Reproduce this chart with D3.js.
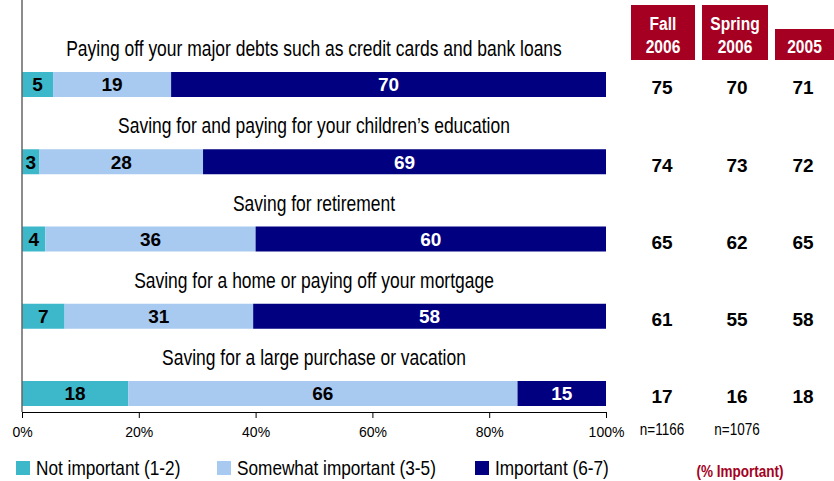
<!DOCTYPE html>
<html>
<head>
<meta charset="utf-8">
<script src="https://cdn.jsdelivr.net/npm/d3@7"></script>
<style>
  html, body { margin: 0; padding: 0; background: #fff; }
  svg { display: block; }
</style>
</head>
<body>
<svg id="chart" width="834" height="481"></svg>
<script>
// Priorities, shares rating each item (percent)
const categories = [
  "Paying off your major debts such as credit cards and bank loans",
  "Saving for and paying for your children\u2019s education",
  "Saving for retirement",
  "Saving for a home or paying off your mortgage",
  "Saving for a large purchase or vacation"
];
const notImportant = [5, 3, 4, 7, 18];
const somewhatImportant = [19, 28, 36, 31, 66];
const important = [70, 69, 60, 58, 15];

// Earlier waves, % important
const waves = ["Fall\n2006", "Spring\n2006", "2005"];
const fall2006 = [75, 74, 65, 61, 17];
const spring2006 = [70, 73, 62, 55, 16];
const y2005 = [71, 72, 65, 58, 18];
const sampleSizes = ["n=1166", "n=1076"];

const seriesNames = ["Not important (1-2)", "Somewhat important (3-5)", "Important (6-7)"];
const colors = ["#3db8cb", "#a8caf0", "#000080"];
const labelColors = ["#000", "#000", "#fff"];
const tickValues = [0, 0.2, 0.4, 0.6, 0.8, 1];

const font = "'Liberation Sans', Arial, sans-serif";
const red = "#a50021";
const condense = 0.82; // horizontal squeeze for the condensed captions

const svg = d3.select("#chart");

// condensed text: glyphs drawn at origin and squeezed horizontally
function narrowText(parent, x, y, txt, size, opts = {}) {
  return parent.append("text")
    .attr("transform", `translate(${x},${y}) scale(${condense},1)`)
    .attr("text-anchor", opts.anchor || "start")
    .style("font-family", font)
    .style("font-size", size + "px")
    .style("font-weight", opts.bold ? "bold" : "normal")
    .attr("fill", opts.fill || "#000")
    .text(txt);
}

const x = d3.scaleLinear().domain([0, 1]).range([22, 606]);
const y = d3.scalePoint().domain(d3.range(categories.length)).range([84.5, 393.5]);
const barH = 25;

// stacked segments, each row spread over the full 0-100% width
const segs = [];
categories.forEach((c, i) => {
  const vals = [notImportant[i], somewhatImportant[i], important[i]];
  const total = d3.sum(vals);
  let acc = 0;
  vals.forEach((v, k) => {
    segs.push({ row: i, k, v, x0: acc / total, x1: (acc + v) / total });
    acc += v;
  });
});

// category titles above each bar
const titles = svg.append("g");
categories.forEach((c, i) => {
  narrowText(titles, (x(0) + x(1)) / 2, y(i) - 28.5, c, 21.3, { anchor: "middle" });
});

// bars
svg.append("g").selectAll("rect").data(segs).join("rect")
  .attr("x", d => x(d.x0))
  .attr("y", d => y(d.row) - barH / 2)
  .attr("width", d => x(d.x1) - x(d.x0))
  .attr("height", barH)
  .attr("fill", d => colors[d.k]);

// segment value labels
svg.append("g").selectAll("text").data(segs).join("text")
  .attr("x", d => (x(d.x0) + x(d.x1)) / 2)
  .attr("y", d => y(d.row))
  .attr("dy", "0.36em")
  .attr("text-anchor", "middle")
  .style("font-family", font)
  .style("font-weight", "bold")
  .style("font-size", "19px")
  .attr("fill", d => labelColors[d.k])
  .text(d => d.v);

// left axis line
svg.append("line")
  .attr("x1", x(0)).attr("x2", x(0))
  .attr("y1", 0).attr("y2", 412)
  .attr("stroke", "#666").attr("stroke-width", 1.5);

// bottom axis
const xAxis = d3.axisBottom(x)
  .tickValues(tickValues)
  .tickFormat(d3.format(".0%"))
  .tickSize(6)
  .tickPadding(9);
const ax = svg.append("g").attr("transform", "translate(0,412)").call(xAxis);
ax.select(".domain").attr("stroke", "#000");
ax.selectAll(".tick line").attr("stroke", "#000");
ax.selectAll(".tick text")
  .style("font-family", font)
  .style("font-size", "14px")
  .attr("fill", "#000");

// wave columns
const colX = [662, 737, 803];
const boxes = [
  { x0: 631, x1: 695, y0: 5 },
  { x0: 702, x1: 768, y0: 5 },
  { x0: 775, x1: 834, y0: 29 }
];
const waveVals = [fall2006, spring2006, y2005];

const hdr = svg.append("g");
boxes.forEach((b, j) => {
  hdr.append("rect")
    .attr("x", b.x0).attr("y", b.y0)
    .attr("width", b.x1 - b.x0).attr("height", 60 - b.y0)
    .attr("fill", red);
  const lines = waves[j].split("\n");
  const cx = (b.x0 + b.x1) / 2;
  lines.forEach((ln, li) => {
    narrowText(hdr, cx, 53 - (lines.length - li - 1) * 23, ln, 19,
      { anchor: "middle", bold: true, fill: "#fff" });
  });
});

waveVals.forEach((vals, j) => {
  svg.append("g").selectAll("text").data(vals).join("text")
    .attr("x", colX[j])
    .attr("y", (d, i) => y(i) + 3)
    .attr("dy", "0.36em")
    .attr("text-anchor", "middle")
    .style("font-family", font)
    .style("font-weight", "bold")
    .style("font-size", "19px")
    .attr("fill", "#000")
    .text(d => d);
});

const notes = svg.append("g");
sampleSizes.forEach((s, j) => {
  narrowText(notes, colX[j], 435, s, 16.5, { anchor: "middle" });
});
narrowText(notes, 740, 477, "(% Important)", 16.5, { anchor: "middle", bold: true, fill: red });

// legend
const legX = [16, 217, 475];
const leg = svg.append("g");
seriesNames.forEach((name, k) => {
  leg.append("rect")
    .attr("x", legX[k]).attr("y", 461)
    .attr("width", 14).attr("height", 14)
    .attr("fill", colors[k]);
  narrowText(leg, legX[k] + 20, 475, name, 21);
});
</script>
</body>
</html>
